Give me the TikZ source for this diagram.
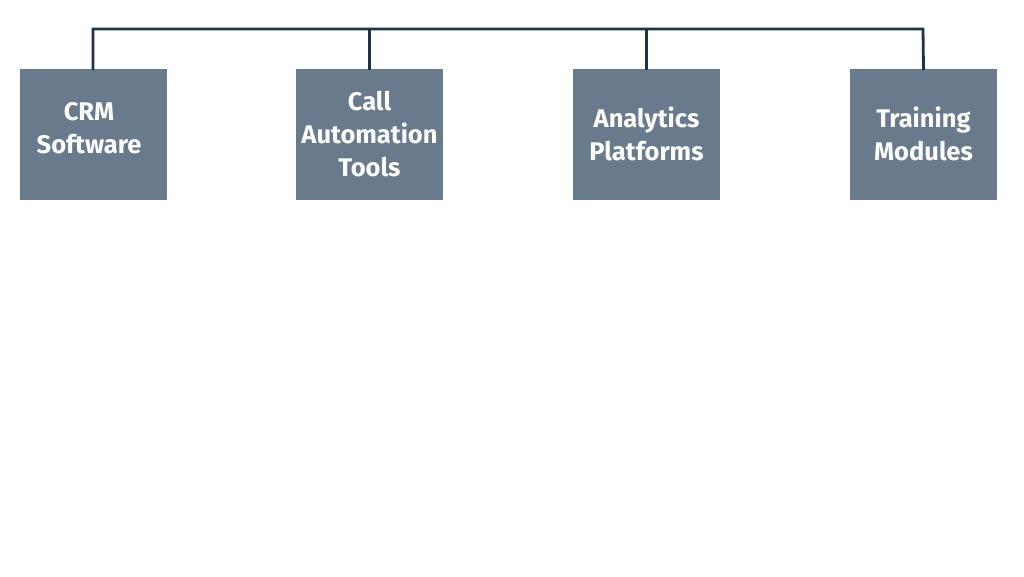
\documentclass[tikz,border=0pt]{standalone}
\usepackage{fontspec}
\setmainfont{Fira Sans}
\begin{document}
\begin{tikzpicture}[x=1pt,y=-1pt,
  box/.style={fill=boxfill,draw=none,minimum width=147pt,minimum height=131pt,inner sep=0pt},
  lab/.style={text=white,align=center,inner sep=0pt,font=\fontsize{25.5}{33}\selectfont\bfseries},
  link/.style={draw=linecol,line width=2.8pt,line cap=rect}]
\definecolor{boxfill}{HTML}{687A8B}
\definecolor{linecol}{HTML}{1F3347}
\useasboundingbox (0,0) rectangle (1024,576);
\fill[white] (0,0) rectangle (1024,576);
\node[box] (crm) at (93,134.5) {};
\node[box] (call) at (369.5,134.5) {};
\node[box] (ana) at (646.5,134.5) {};
\node[box] (tra) at (923.5,134.5) {};
\node[lab] (crmt) at (89,128.5) {CRM\\Software};
\node[lab] (callt) at (369.5,134.5) {Call\\Automation\\Tools};
\node[lab] (anat) at (646.5,133.5) {Analytics\\Platforms};
\node[lab] (trat) at (923.5,133.5) {Training\\Modules};
\coordinate (t1) at (93,29);
\coordinate (t4) at (923,29);
\draw[link] (crm.north) -- (t1) -- (t4) -- (tra.north);
\draw[link] (call.north) -- (call.north |- t1);
\draw[link] (ana.north) -- (ana.north |- t1);
\end{tikzpicture}
\end{document}
